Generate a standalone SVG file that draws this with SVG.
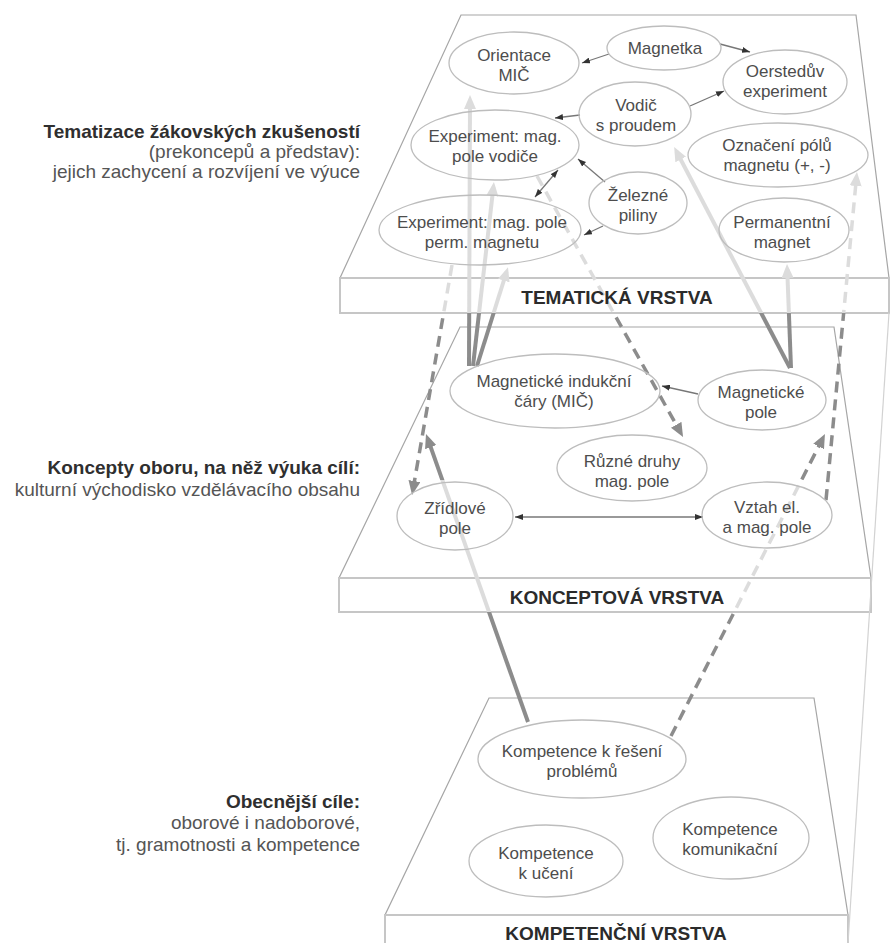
<svg xmlns="http://www.w3.org/2000/svg" width="892" height="943" viewBox="0 0 892 943">
<style>
.plane{fill:#fff;stroke:#a6a6a6;stroke-width:1.2}
.band{fill:#fff;stroke:#c6c6c6;stroke-width:2}
.node ellipse{fill:none;stroke:#bdbdbd;stroke-width:1.3}
.node text{font-family:"Liberation Sans",Arial,sans-serif;font-size:17px;fill:#4d4d4d;text-anchor:middle}
.title{font-family:"Liberation Sans",Arial,sans-serif;font-size:19px;font-weight:bold;fill:#2b2b2b;text-anchor:middle}
.side text{font-family:"Liberation Sans",Arial,sans-serif;font-size:19px;fill:#555;text-anchor:end}
.side .b{font-weight:bold;fill:#2f2f2f}
.thin{stroke:#777;stroke-width:1.3;fill:none}
.thick{stroke-width:4;fill:none}
.dash{stroke-width:3.5;fill:none;stroke-dasharray:11 7}
</style>
<defs>
<linearGradient id="gTop" gradientUnits="userSpaceOnUse" x1="0" y1="0" x2="0" y2="943">
<stop offset="0" stop-color="#dcdcdc"/><stop offset="0.332" stop-color="#dcdcdc"/><stop offset="0.332" stop-color="#8c8c8c"/><stop offset="1" stop-color="#8c8c8c"/>
</linearGradient>
<linearGradient id="gMid" gradientUnits="userSpaceOnUse" x1="0" y1="0" x2="0" y2="943">
<stop offset="0" stop-color="#8c8c8c"/><stop offset="0.509" stop-color="#8c8c8c"/><stop offset="0.509" stop-color="#dcdcdc"/><stop offset="0.649" stop-color="#dcdcdc"/><stop offset="0.649" stop-color="#8c8c8c"/><stop offset="1" stop-color="#8c8c8c"/>
</linearGradient>
<marker id="hl" viewBox="0 0 14 12" refX="9" refY="6" markerWidth="14" markerHeight="12" markerUnits="userSpaceOnUse" orient="auto"><path d="M0,0 L14,6 L0,12 z" fill="#dcdcdc"/></marker>
<marker id="hd" viewBox="0 0 14 12" refX="9" refY="6" markerWidth="14" markerHeight="12" markerUnits="userSpaceOnUse" orient="auto"><path d="M0,0 L14,6 L0,12 z" fill="#8c8c8c"/></marker>
<marker id="hs" viewBox="0 0 8 6" refX="8" refY="3" markerWidth="8" markerHeight="6" markerUnits="userSpaceOnUse" orient="auto-start-reverse"><path d="M0,0 L8,3 L0,6 z" fill="#333"/></marker>
</defs>
<rect width="892" height="943" fill="#fff"/>

<g id="layers">
<polygon class="plane" points="461,15 856,15 889,278 340,278"/>
<rect class="band" x="340" y="278" width="549" height="35"/>
<polygon class="plane" points="460,327 834,327 871,578 339,578"/>
<rect class="band" x="339" y="578" width="532" height="34"/>
<polygon class="plane" points="489,698 814,698 848,915 385,915"/>
<rect class="band" x="385" y="915" width="463" height="40"/>
</g>

<g id="side-labels" class="side">
<text x="360" y="138" class="b">Tematizace žákovských zkušeností</text>
<text x="360" y="158">(prekoncepů a představ):</text>
<text x="360" y="178">jejich zachycení a rozvíjení ve výuce</text>
<text x="360" y="474" class="b">Koncepty oboru, na něž výuka cílí:</text>
<text x="360" y="496">kulturní východisko vzdělávacího obsahu</text>
<text x="360" y="808" class="b">Obecnější cíle:</text>
<text x="360" y="829">oborové i nadoborové,</text>
<text x="360" y="851">tj. gramotnosti a kompetence</text>
</g>

<g id="connectors">
<line x1="889" y1="313" x2="848" y2="943" stroke="#d2d2d2" stroke-width="1.2"/>
<path class="thick" stroke="url(#gTop)" d="M469,366 L470,100" marker-end="url(#hl)"/>
<path class="thick" stroke="url(#gTop)" d="M473,366 L493.4,187" marker-end="url(#hl)"/>
<path class="thick" stroke="url(#gTop)" d="M477,366 L506.5,272" marker-end="url(#hl)"/>
<path class="thick" stroke="url(#gTop)" d="M790,368 L676.5,151.5" marker-end="url(#hl)"/>
<path class="thick" stroke="url(#gTop)" d="M791,368 L787.2,269" marker-end="url(#hl)"/>
<path class="thick" stroke="url(#gMid)" d="M528,722 L427.7,438.7" marker-end="url(#hd)"/>
<path class="dash" stroke="url(#gTop)" d="M537,176 L680.6,432.6" marker-end="url(#hd)"/>
<path class="dash" stroke="url(#gTop)" d="M452,265 L412.9,490" marker-end="url(#hd)"/>
<path class="dash" stroke="url(#gMid)" d="M671,736 L822.7,438.5" marker-end="url(#hd)"/>
<path class="dash" stroke="url(#gTop)" d="M826,500 L856.5,177" marker-end="url(#hl)"/>
<path class="thin" d="M609,54 L582,63" marker-end="url(#hs)"/>
<path class="thin" d="M720,44 L750,52" marker-end="url(#hs)"/>
<path class="thin" d="M690,106 L724,91" marker-end="url(#hs)"/>
<path class="thin" d="M580,115 L555,118" marker-end="url(#hs)"/>
<path class="thin" d="M605,182 L578,159" marker-end="url(#hs)"/>
<path class="thin" d="M535,197 L558,170" marker-start="url(#hs)" marker-end="url(#hs)"/>
<path class="thin" d="M603,226 L584,235" marker-end="url(#hs)"/>
<path class="thin" d="M698,394 L662,386" marker-end="url(#hs)"/>
<path class="thin" d="M515,517 L703,517" marker-start="url(#hs)" marker-end="url(#hs)"/>
</g>

<g id="n-orientace" class="node"><ellipse cx="514" cy="63" rx="65" ry="31"/><text x="514" y="61">Orientace</text><text x="514" y="81">MIČ</text></g>
<g id="n-magnetka" class="node"><ellipse cx="664" cy="48" rx="57" ry="22"/><text x="665" y="54">Magnetka</text></g>
<g id="n-oersted" class="node"><ellipse cx="785" cy="82" rx="62" ry="32"/><text x="785" y="77">Oerstedův</text><text x="785" y="97">experiment</text></g>
<g id="n-vodic" class="node"><ellipse cx="635" cy="114" rx="56" ry="32"/><text x="636" y="111">Vodič</text><text x="636" y="131">s proudem</text></g>
<g id="n-exp-vodice" class="node"><ellipse cx="495" cy="145" rx="84" ry="35"/><text x="495" y="142">Experiment: mag.</text><text x="495" y="162">pole vodiče</text></g>
<g id="n-oznaceni" class="node"><ellipse cx="778" cy="155" rx="90" ry="32"/><text x="777" y="151">Označení pólů</text><text x="777" y="171">magnetu (+, -)</text></g>
<g id="n-zelezne" class="node"><ellipse cx="638" cy="203" rx="49" ry="31"/><text x="638" y="201">Železné</text><text x="638" y="221">piliny</text></g>
<g id="n-exp-perm" class="node"><ellipse cx="480" cy="230" rx="101" ry="35"/><text x="482" y="228">Experiment: mag. pole</text><text x="482" y="248">perm. magnetu</text></g>
<g id="n-perm" class="node"><ellipse cx="784" cy="230" rx="65" ry="32"/><text x="782" y="228">Permanentní</text><text x="782" y="248">magnet</text></g>

<g id="n-mic" class="node"><ellipse cx="555" cy="391" rx="105" ry="37"/><text x="554" y="387">Magnetické indukční</text><text x="554" y="407">čáry (MIČ)</text></g>
<g id="n-mag-pole" class="node"><ellipse cx="762" cy="400" rx="64" ry="30"/><text x="761" y="398">Magnetické</text><text x="761" y="418">pole</text></g>
<g id="n-ruzne" class="node"><ellipse cx="632" cy="468" rx="75" ry="33"/><text x="632" y="467">Různé druhy</text><text x="632" y="487">mag. pole</text></g>
<g id="n-zridlove" class="node"><ellipse cx="455" cy="516" rx="58" ry="34"/><text x="455" y="514">Zřídlové</text><text x="455" y="534">pole</text></g>
<g id="n-vztah" class="node"><ellipse cx="767" cy="515" rx="65" ry="33"/><text x="767" y="513">Vztah el.</text><text x="767" y="533">a mag. pole</text></g>

<g id="n-reseni" class="node"><ellipse cx="582" cy="759" rx="104" ry="39"/><text x="582" y="757">Kompetence k řešení</text><text x="582" y="777">problémů</text></g>
<g id="n-uceni" class="node"><ellipse cx="546" cy="861" rx="77" ry="36"/><text x="546" y="859">Kompetence</text><text x="546" y="879">k učení</text></g>
<g id="n-komunikacni" class="node"><ellipse cx="731" cy="838" rx="78" ry="41"/><text x="730" y="835">Kompetence</text><text x="730" y="855">komunikační</text></g>

<g id="layer-titles">
<text class="title" x="617" y="304">TEMATICKÁ VRSTVA</text>
<text class="title" x="617" y="604">KONCEPTOVÁ VRSTVA</text>
<text class="title" x="616" y="940">KOMPETENČNÍ VRSTVA</text>
</g>
</svg>
